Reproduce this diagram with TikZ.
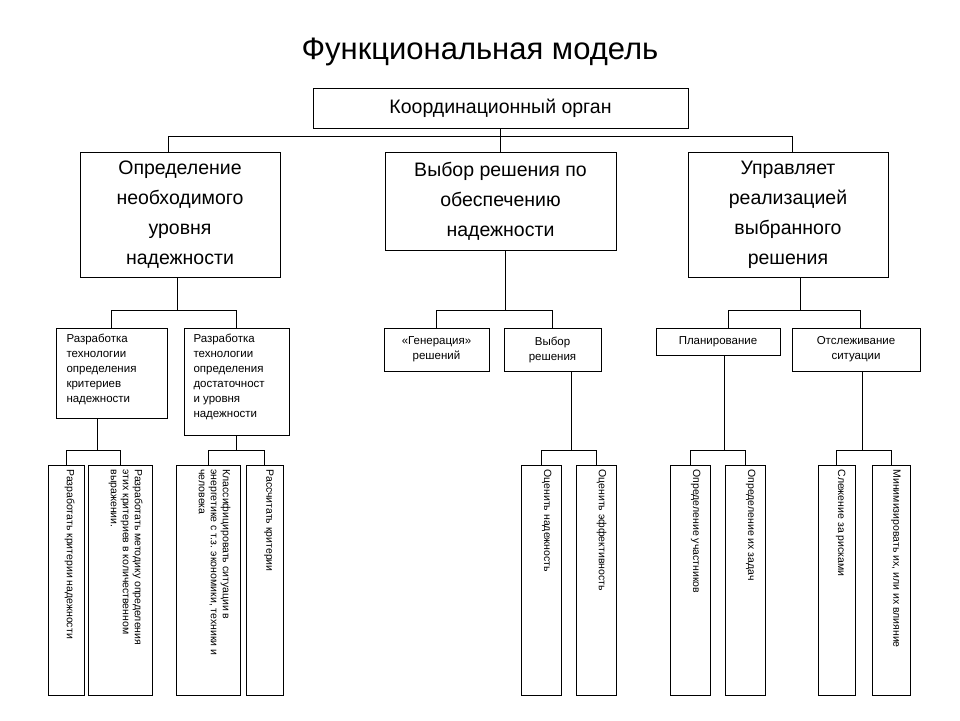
\documentclass[tikz,border=0pt]{standalone}
\usepackage{fontspec}
\setmainfont{Liberation Sans}
\begin{document}
\begin{tikzpicture}[x=1pt,y=-1pt,line width=1pt,
  big/.style={draw,font=\fontsize{19.5}{30}\selectfont,align=center,inner sep=0},
  small/.style={draw,font=\fontsize{11.5}{15}\selectfont,inner sep=0},
  lt/.style={rotate=-90,anchor=north west,font=\fontsize{10.5}{12}\selectfont,align=left,inner sep=0}]
\useasboundingbox (0,0) rectangle (960,720);
\node (title) at (480,52) {\fontsize{31}{34}\selectfont Функциональная модель};
\node[big,minimum width=375,minimum height=40] (top) at (500.5,108) {Координационный орган};
\node[big,minimum width=200,minimum height=125] (b1) at (180,214.5) {Определение\\необходимого\\уровня\\надежности};
\node[big,minimum width=231,minimum height=98] (b2) at (500.5,201) {Выбор решения по\\обеспечению\\надежности};
\node[big,minimum width=200,minimum height=125] (b3) at (788,214.5) {Управляет\\реализацией\\выбранного\\решения};
\draw (top.south) -- ++(0,8) coordinate (t1);
\draw (168,136) -- (792,136);
\draw (168,136) -- (168,152); \draw (500.5,136)--(500.5,152); \draw (792,136)--(792,152);
% level 3
\node[small,minimum width=111,minimum height=90] (s1) at (111.5,373) {};
\node[font=\fontsize{11.5}{15}\selectfont,align=left,anchor=north west,inner sep=0] (s1t) at (66,334) {Разработка\\технологии\\определения\\критериев\\надежности};
\node[small,minimum width=105,minimum height=107] (s2) at (236.5,381.5) {};
\node[font=\fontsize{11.5}{15}\selectfont,align=left,anchor=north west,inner sep=0] (s2t) at (193,334) {Разработка\\технологии\\определения\\достаточност\\и уровня\\надежности};
\node[small,minimum width=105,minimum height=43,align=center] (s3) at (436.5,349.5) {«Генерация»\\решений};
\node[small,minimum width=97,minimum height=43,align=center] (s4) at (552.5,349.5) {Выбор\\решения};
\node[small,minimum width=124,minimum height=27,align=center] (s5) at (718,341.5) {Планирование};
\node[small,minimum width=128,minimum height=43,align=center] (s6) at (856,349.5) {Отслеживание\\ситуации};
\draw (177,277) -- (177,310); \draw (111.5,310)--(236.5,310); \draw (111.5,310)--(s1.north); \draw (236.5,310)--(s2.north);
\draw (505,250) -- (505,310); \draw (436.5,310)--(552.5,310); \draw (436.5,310)--(s3.north); \draw (552.5,310)--(s4.north);
\draw (800,277) -- (800,310); \draw (728,310)--(860,310); \draw (728,310)--(728,328); \draw (860,310)--(860,328);
% leaves
\foreach \n/\a/\b/\t in {l1/48/84/{Разработать критерии надежности},
  l2/88/152/{Разработать методику определения\\этих критериев в количественном\\выражении.},
  l3/176/240/{Классифицировать ситуации в\\энергетике с т.з. экономики, техники и\\человека},
  l4/246/283/{Рассчитать критерии},
  l5/521/561/{Оценить надежность},
  l6/576/616/{Оценить эффективность},
  l7/670/710/{Определение участников},
  l8/725/765/{Определение их задач},
  l9/818/855/{Слежение за рисками},
  l10/872/910/{Минимизировать их, или их влияние}}{
  \draw (\a,465) rectangle (\b,695);
  \coordinate (\n) at ({(\a+\b)/2},465);
  \node[lt] at (\b-9,469) {\t};
}
\draw (97,418)--(97,450); \draw (66,450)--(120,450); \draw (66,450)--(66,465); \draw (120,450)--(120,465);
\draw (236,435)--(236,450); \draw (208,450)--(264,450); \draw (208,450)--(208,465); \draw (264,450)--(264,465);
\draw (571,371)--(571,450); \draw (541,450)--(596,450); \draw (541,450)--(541,465); \draw (596,450)--(596,465);
\draw (724,355)--(724,450); \draw (690,450)--(745,450); \draw (690,450)--(690,465); \draw (745,450)--(745,465);
\draw (862,371)--(862,450); \draw (836,450)--(891,450); \draw (836,450)--(836,465); \draw (891,450)--(891,465);
\end{tikzpicture}
\end{document}
